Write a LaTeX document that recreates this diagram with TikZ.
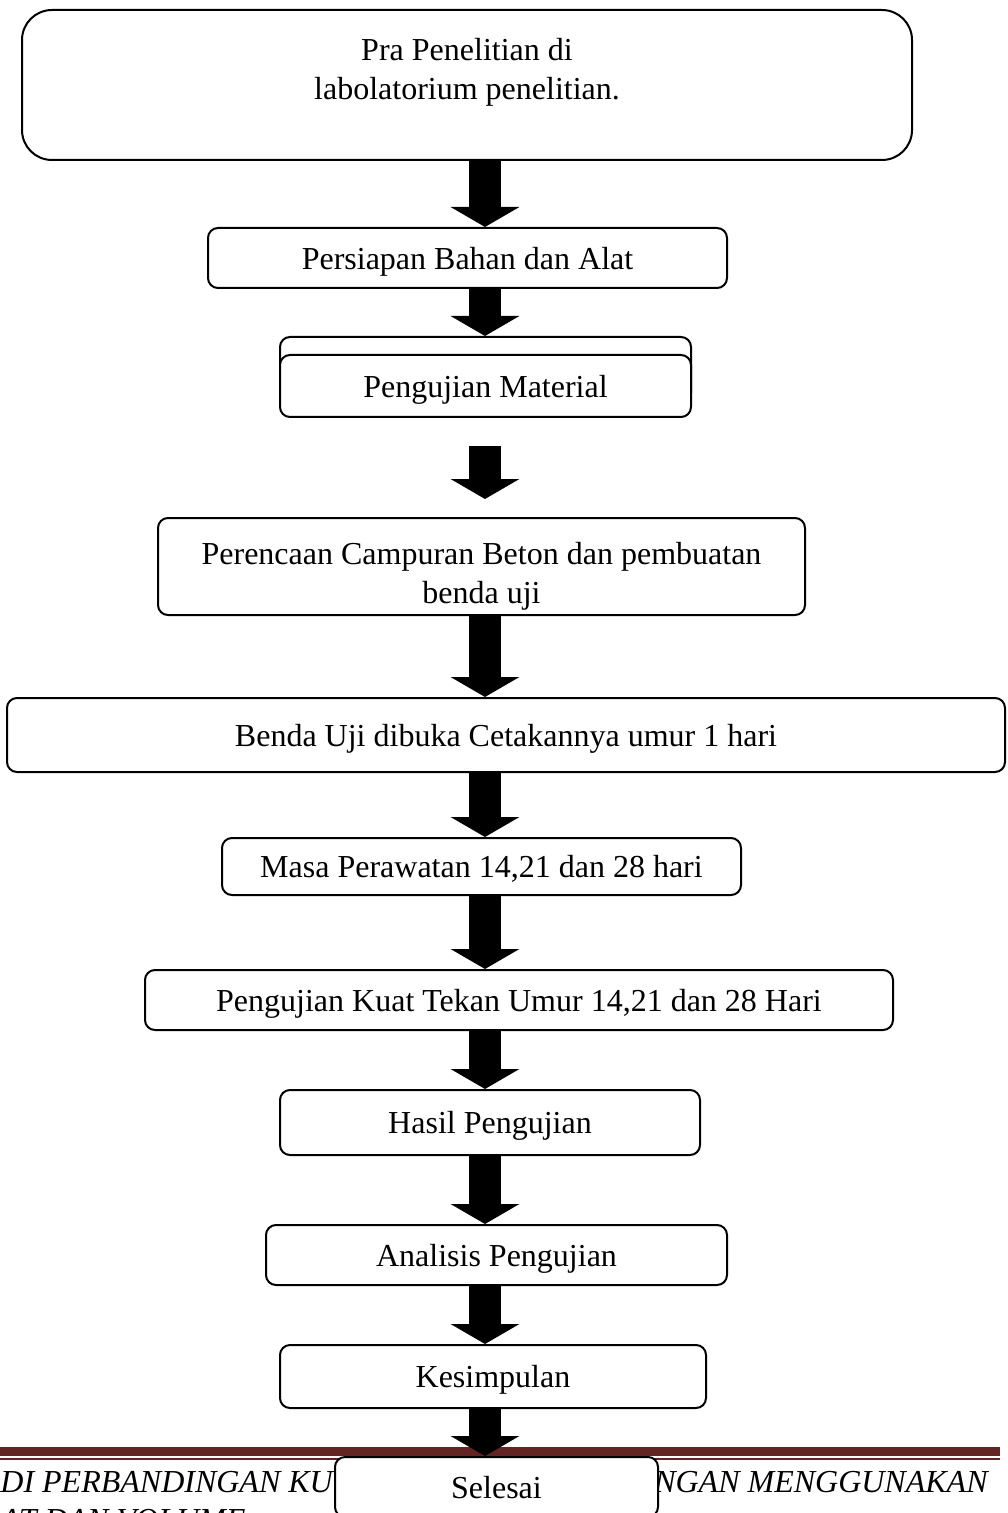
\documentclass[tikz,border=0pt]{standalone}
\usepackage{fontspec}
\setmainfont{Liberation Serif}
\usetikzlibrary{arrows.meta}
\definecolor{footerred}{RGB}{99,36,36}

\begin{document}
\begin{tikzpicture}[x=0.5pt, y=-0.5pt,
            roundbox/.style={rectangle, rounded corners=5pt, draw=black, line width=1pt, fill=white, align=center, inner sep=0pt, text depth=0pt, font=\fontsize{16}{19.5}\selectfont},
            bigbox/.style={roundbox, rounded corners=15pt},
            plaintext/.style={align=center, inner sep=0pt, font=\fontsize{16}{19.5}\selectfont},
            footertext/.style={inner sep=0pt, font=\fontsize{16}{20}\selectfont\itshape},
            downarrow/.style={-{Triangle[width=34pt, length=10pt]}, line width=16pt},
            ]

            \useasboundingbox (0,0) rectangle (1007,1513);
            \coordinate (axis) at (485,0);

            \node[bigbox, minimum width=445pt, minimum height=75pt] (pra) at (467,85) {};
            \node[plaintext] (pratext) at (467,72) {Pra Penelitian di\\labolatorium penelitian.};
            \node[roundbox, minimum width=259.5pt, minimum height=30pt] (persiapan) at (467.5,258) {Persiapan Bahan dan Alat};
            \node[roundbox, minimum width=205.5pt, minimum height=33pt] (materialback) at (485.5,370) {};
            \node[roundbox, minimum width=205.5pt, minimum height=31pt] (material) at (485.5,386) {Pengujian Material};
            \node[roundbox, text depth=, minimum width=323.5pt, minimum height=48.5pt] (perencanaan) at (481.5,566.5) {\rule{0pt}{21pt}Perencaan Campuran Beton dan pembuatan\\benda uji};
            \node[roundbox, minimum width=499pt, minimum height=37pt] (benda) at (506,735) {Benda Uji dibuka Cetakannya umur 1 hari};
            \node[roundbox, minimum width=259.5pt, minimum height=28.5pt] (masa) at (481.5,866.5) {Masa Perawatan 14,21 dan 28 hari};
            \node[roundbox, minimum width=374pt, minimum height=30pt] (kuat) at (519,1000) {Pengujian Kuat Tekan Umur 14,21 dan 28 Hari};
            \node[roundbox, minimum width=210pt, minimum height=32.5pt] (hasil) at (490,1122.5) {Hasil Pengujian};
            \node[roundbox, minimum width=230.5pt, minimum height=30pt] (analisis) at (496.5,1255) {Analisis Pengujian};
            \node[roundbox, minimum width=213pt, minimum height=31.5pt] (kesimpulan) at (493,1376.5) {Kesimpulan};

            \fill[footerred] (0,1447) rectangle (1000,1456);
            \fill[footerred] (0,1458) rectangle (1000,1460);
            \node[footertext, anchor=base west] (footerleft) at (0,1492) {DI PERBANDINGAN KU};
            \node[footertext, anchor=base east] (footerright) at (988,1492) {NGAN MENGGUNAKAN};
            \node[footertext, anchor=base west] (footerline) at (0,1530) {AT DAN VOLUME};

            \node[roundbox, minimum width=161.5pt, minimum height=30pt] (selesai) at (496.5,1487) {Selesai};

            \draw[downarrow] (pra.south -| axis) -- (persiapan.north -| axis);
            \draw[downarrow] (persiapan.south -| axis) -- (materialback.north -| axis);
            \draw[downarrow, shorten <=14pt, shorten >=9pt] (material.south -| axis) -- (perencanaan.north -| axis);
            \draw[downarrow] (perencanaan.south -| axis) -- (benda.north -| axis);
            \draw[downarrow] (benda.south -| axis) -- (masa.north -| axis);
            \draw[downarrow] (masa.south -| axis) -- (kuat.north -| axis);
            \draw[downarrow] (kuat.south -| axis) -- (hasil.north -| axis);
            \draw[downarrow] (hasil.south -| axis) -- (analisis.north -| axis);
            \draw[downarrow] (analisis.south -| axis) -- (kesimpulan.north -| axis);
            \draw[downarrow] (kesimpulan.south -| axis) -- (selesai.north -| axis);
        \end{tikzpicture}
\end{document}
